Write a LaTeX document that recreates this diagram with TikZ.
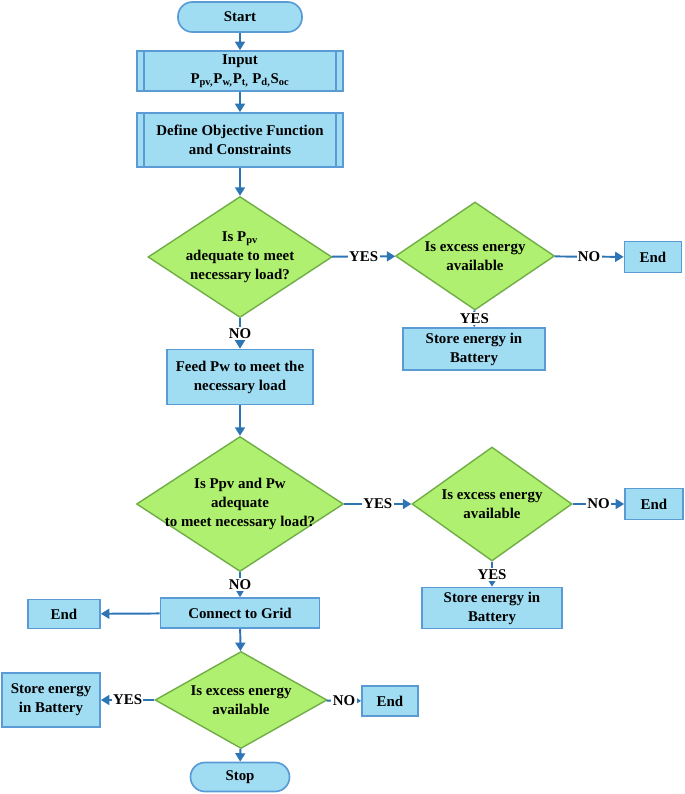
\documentclass[tikz,border=0pt]{standalone}
\usepackage{fontspec}
\setmainfont{Liberation Serif}
\usetikzlibrary{shapes.geometric,arrows.meta}
\definecolor{boxfill}{RGB}{160,221,243}
\definecolor{boxline}{RGB}{91,155,213}
\definecolor{decfill}{RGB}{176,240,112}
\definecolor{decline}{RGB}{112,173,71}
\definecolor{flowline}{RGB}{46,117,182}
\tikzset{
  box/.style={rectangle, draw=boxline, fill=boxfill, line width=1.2pt, align=center,
    font=\bfseries\fontsize{10.6}{13.5}\selectfont, inner sep=1pt},
  term/.style={box, rounded corners=0.36cm},
  decision/.style={diamond, draw=decline, fill=decfill, line width=1pt, align=center,
    font=\bfseries\fontsize{10.6}{13.5}\selectfont, inner sep=-30pt},
  flow/.style={draw=flowline, line width=1.4pt, -{Triangle[width=7pt,length=6pt]}},
  lbl/.style={fill=white, inner sep=1pt, font=\bfseries\fontsize{10.6}{12}\selectfont}
}
\begin{document}
\begin{tikzpicture}
  \useasboundingbox (0,0) rectangle (17.125,-19.85);
  % Main column
  \node[term, minimum width=3.1cm, minimum height=0.75cm] (start) at (6.0,-0.425) {Start};
  \node[box, minimum width=5.15cm, minimum height=1.0cm] (input) at (6.0,-1.775)
    {Input\\ P\textsubscript{pv,}P\textsubscript{w,}P\textsubscript{t,} P\textsubscript{d,}S\textsubscript{oc}};
  \node[box, minimum width=5.15cm, minimum height=1.35cm] (define) at (6.0,-3.5)
    {Define Objective Function\\ and Constraints};
  \node[decision, minimum width=4.6cm, minimum height=3.025cm] (pv) at (6.0,-6.425)
    {Is P\textsubscript{pv}\\ adequate to meet\\ necessary load?};
  \node[box, minimum width=3.65cm, minimum height=1.375cm] (feed) at (6.0,-9.425)
    {Feed Pw to meet the\\ necessary load};
  \node[decision, minimum width=5.175cm, minimum height=3.375cm] (pvw) at (6.0,-12.6)
    {Is Ppv and Pw\\ adequate\\ to meet necessary load?};
  \node[box, minimum width=3.975cm, minimum height=0.75cm] (grid) at (6.0,-15.325) {Connect to Grid};
  \node[decision, minimum width=4.3cm, minimum height=2.425cm] (exc3) at (6.025,-17.5)
    {Is excess energy\\ available};
  \node[term, minimum width=2.475cm, minimum height=0.725cm] (stop) at (6.0,-19.425) {Stop};
  % Predefined process bars
  \foreach \n in {input,define}{
    \draw[boxline, line width=1pt] ([xshift=0.2cm]\n.north west) -- ([xshift=0.2cm]\n.south west);
    \draw[boxline, line width=1pt] ([xshift=-0.2cm]\n.north east) -- ([xshift=-0.2cm]\n.south east);
  }
  % First branch
  \node[decision, minimum width=3.975cm, minimum height=2.7cm] (exc1) at (11.875,-6.4)
    {Is excess energy\\ available};
  \node[box, minimum width=1.425cm, minimum height=0.775cm] (end1) at (16.325,-6.425) {End};
  \node[box, minimum width=3.55cm, minimum height=1.05cm] (store1) at (11.85,-8.725)
    {Store energy in\\ Battery};
  % Second branch
  \node[decision, minimum width=4.0cm, minimum height=2.85cm] (exc2) at (12.3,-12.6)
    {Is excess energy\\ available};
  \node[box, minimum width=1.45cm, minimum height=0.775cm] (end2) at (16.35,-12.6) {End};
  \node[box, minimum width=3.5cm, minimum height=1.025cm] (store2) at (12.3,-15.2)
    {Store energy in\\ Battery};
  % Bottom branches
  \node[box, minimum width=1.8cm, minimum height=0.725cm] (end3) at (1.6,-15.35) {End};
  \node[box, minimum width=2.45cm, minimum height=1.35cm] (store3) at (1.275,-17.5)
    {Store energy\\ in Battery};
  \node[box, minimum width=1.4cm, minimum height=0.75cm] (end4) at (9.75,-17.525) {End};
  % Connectors
  \draw[flow] (start) -- (input);
  \draw[flow] (input) -- (define);
  \draw[flow] (define) -- (pv);
  \draw[flow] (pv) -- node[lbl] {YES} (exc1);
  \draw[flow] (exc1) -- node[lbl] {NO} (end1);
  \draw[flow] (exc1) -- node[lbl] {YES} (store1);
  \draw[flow] (pv) -- node[lbl] {NO} (feed);
  \draw[flow] (feed) -- (pvw);
  \draw[flow] (pvw) -- node[lbl] {YES} (exc2);
  \draw[flow] (exc2) -- node[lbl] {NO} (end2);
  \draw[flow] (exc2) -- node[lbl] {YES} (store2);
  \draw[flow] (pvw) -- node[lbl] {NO} (grid);
  \draw[flow] (grid) -- (end3);
  \draw[flow] (grid) -- (exc3);
  \draw[flow] (exc3) -- node[lbl] {YES} (store3);
  \draw[flow] (exc3) -- node[lbl] {NO} (end4);
  \draw[flow] (exc3) -- (stop);
\end{tikzpicture}
\end{document}
